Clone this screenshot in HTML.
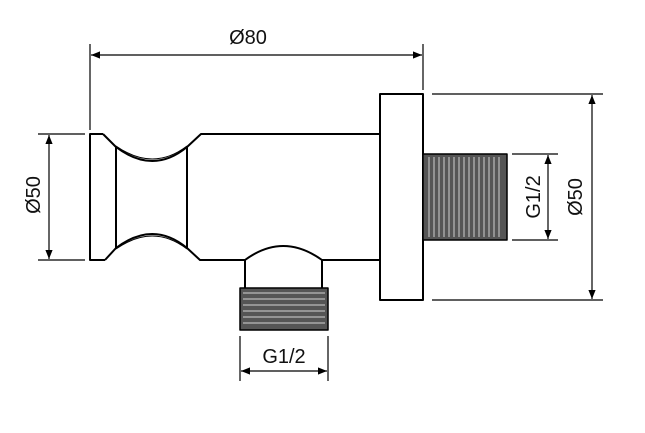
<!DOCTYPE html>
<html><head><style>
html,body{margin:0;padding:0;background:#fff;}
svg{display:block;}
text{font-family:"Liberation Sans",Arial,sans-serif;fill:#111;}
</style></head><body>
<svg width="645" height="433" viewBox="0 0 645 433" xmlns="http://www.w3.org/2000/svg">
<defs>
<marker id="a" viewBox="0 0 10 10" refX="10" refY="5" markerWidth="9" markerHeight="9" orient="auto-start-reverse" markerUnits="userSpaceOnUse">
<path d="M0,1 L10,5 L0,9 Z" fill="#000"/>
</marker>
</defs>
<g stroke="#000" stroke-width="1.2" fill="none">
<line x1="90" y1="44" x2="90" y2="130"/>
<line x1="423" y1="44" x2="423" y2="90"/>
<line x1="91" y1="55" x2="422" y2="55" marker-start="url(#a)" marker-end="url(#a)"/>
<line x1="38" y1="134" x2="85" y2="134"/>
<line x1="38" y1="260" x2="85" y2="260"/>
<line x1="49" y1="135" x2="49" y2="259" marker-start="url(#a)" marker-end="url(#a)"/>
<line x1="432" y1="94" x2="603" y2="94"/>
<line x1="432" y1="300" x2="603" y2="300"/>
<line x1="592" y1="95" x2="592" y2="299" marker-start="url(#a)" marker-end="url(#a)"/>
<line x1="512" y1="154" x2="558" y2="154"/>
<line x1="512" y1="240" x2="558" y2="240"/>
<line x1="548" y1="155" x2="548" y2="239" marker-start="url(#a)" marker-end="url(#a)"/>
<line x1="240" y1="336" x2="240" y2="381"/>
<line x1="328" y1="336" x2="328" y2="381"/>
<line x1="241" y1="371" x2="327" y2="371" marker-start="url(#a)" marker-end="url(#a)"/>
</g>
<g stroke="#000" stroke-width="2" fill="none" stroke-linejoin="round">
<path d="M103,134 L90,134 L90,260 L105,260"/>
<path d="M103,134 L116,147 Q153,175 187,147 L201,134 L380,134"/>
<path d="M105,260 L116,248 Q153,220 187,248 L200,260 L245,260"/>
<path d="M322,260 L380,260"/>
<line x1="116" y1="147" x2="116" y2="248"/>
<line x1="187" y1="147" x2="187" y2="248"/>
<path d="M116,146 Q153,172 187,146" stroke-width="1"/>
<path d="M116,249 Q153,223 187,249" stroke-width="1"/>
<rect x="380" y="94" width="43" height="206"/>
<path d="M245,288 L245,260 Q283,232 322,260 L322,288"/>
<rect x="423" y="154" width="84" height="86" fill="#555" stroke-width="1.5"/>
<rect x="240" y="288" width="88" height="42" fill="#555" stroke-width="1.5"/>
</g>
<g stroke="#bbb" stroke-width="1.2">
<line x1="429" y1="157" x2="429" y2="237"/><line x1="434" y1="157" x2="434" y2="237"/><line x1="439" y1="157" x2="439" y2="237"/><line x1="444" y1="157" x2="444" y2="237"/><line x1="449" y1="157" x2="449" y2="237"/><line x1="454" y1="157" x2="454" y2="237"/><line x1="459" y1="157" x2="459" y2="237"/><line x1="464" y1="157" x2="464" y2="237"/><line x1="469" y1="157" x2="469" y2="237"/><line x1="474" y1="157" x2="474" y2="237"/><line x1="479" y1="157" x2="479" y2="237"/><line x1="484" y1="157" x2="484" y2="237"/><line x1="489" y1="157" x2="489" y2="237"/><line x1="494" y1="157" x2="494" y2="237"/><line x1="499" y1="157" x2="499" y2="237"/>
<line x1="243" y1="293" x2="325" y2="293"/><line x1="243" y1="299" x2="325" y2="299"/><line x1="243" y1="305" x2="325" y2="305"/><line x1="243" y1="311" x2="325" y2="311"/><line x1="243" y1="317" x2="325" y2="317"/><line x1="243" y1="323" x2="325" y2="323"/>
</g>
<text x="248" y="44" font-size="20" text-anchor="middle">Ø80</text>
<text x="0" y="0" font-size="20" text-anchor="middle" transform="translate(40,195) rotate(-90)">Ø50</text>
<text x="0" y="0" font-size="20" text-anchor="middle" transform="translate(582,197) rotate(-90)">Ø50</text>
<text x="0" y="0" font-size="20" text-anchor="middle" transform="translate(540,197) rotate(-90)">G1/2</text>
<text x="284" y="363" font-size="20" text-anchor="middle">G1/2</text>
</svg>
</body></html>
